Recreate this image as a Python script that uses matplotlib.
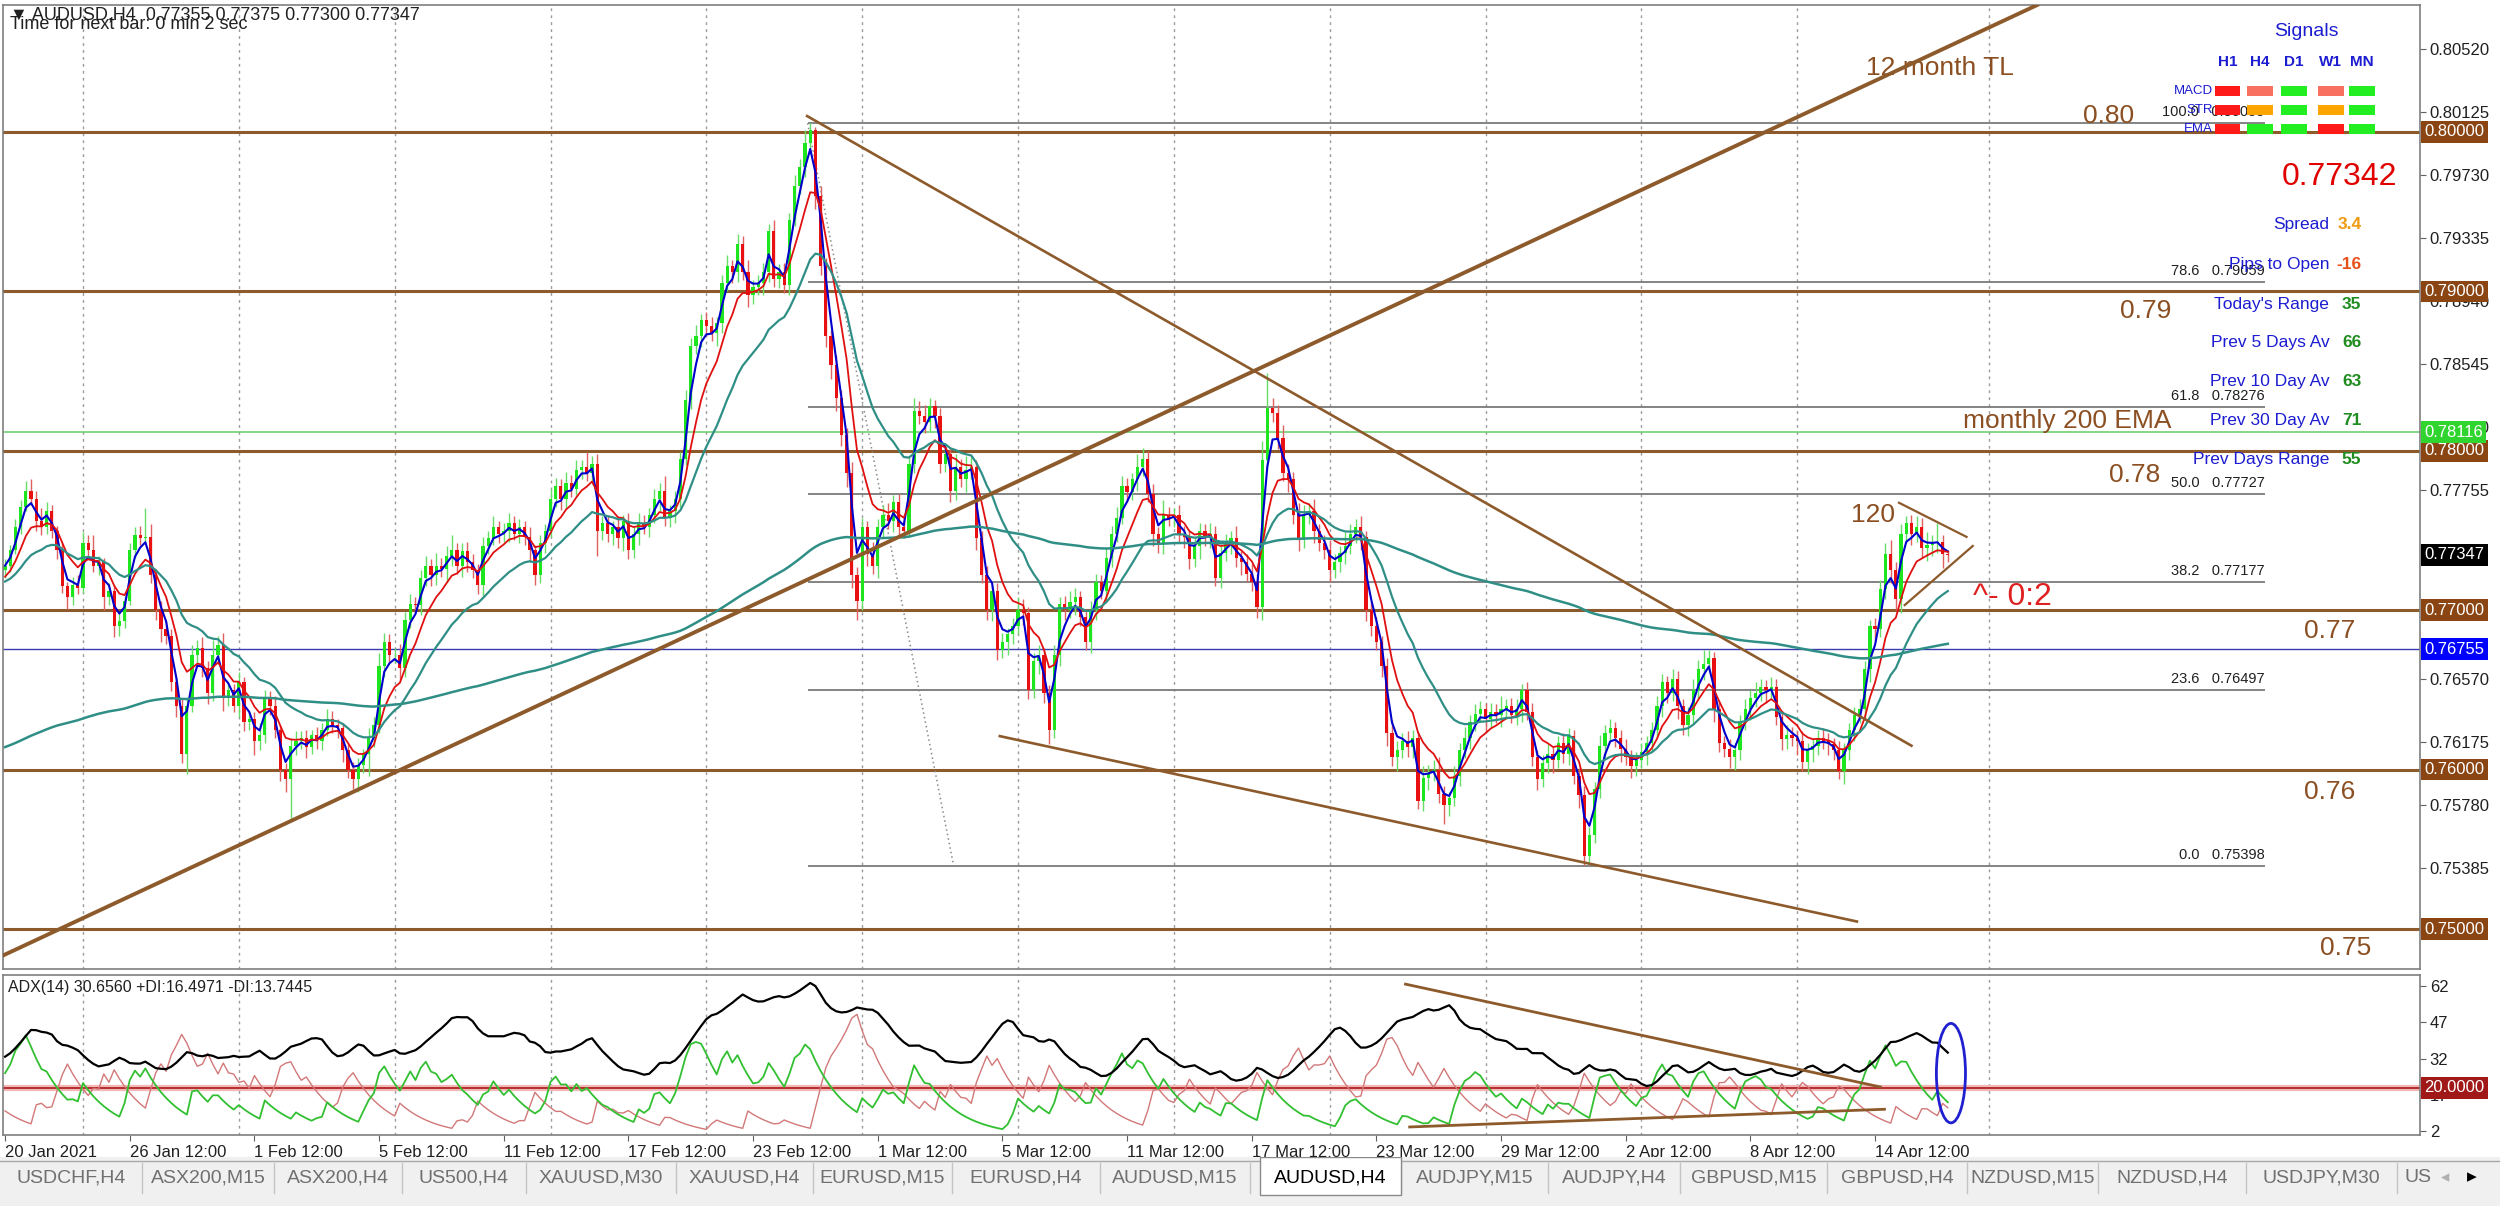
import numpy as np
import matplotlib.pyplot as plt
import matplotlib.transforms as mtransforms
from matplotlib.patches import Rectangle, Ellipse

plt.rcParams['font.family'] = ['Liberation Sans', 'DejaVu Sans']

# ---------------- data ----------------
# AUDUSD H4, 20 Jan 2021 12:00 .. 16 Apr 2021 20:00, prices in pips (x 0.0001)
first_open = 7725
close_pips = [
    7728, 7738, 7752, 7765, 7775, 7770, 7756, 7752, 7762, 7750,
    7738, 7715, 7708, 7716, 7714, 7742, 7738, 7728, 7730, 7708,
    7712, 7690, 7693, 7706, 7738, 7747, 7745, 7746, 7722, 7700,
    7688, 7684, 7655, 7640, 7610, 7640, 7672, 7676, 7664, 7648,
    7672, 7678, 7645, 7650, 7640, 7655, 7630, 7632, 7618, 7622,
    7645, 7640, 7625, 7600, 7594, 7615, 7618, 7620, 7614, 7622,
    7618, 7625, 7632, 7628, 7626, 7612, 7600, 7594, 7603, 7610,
    7620, 7628, 7665, 7680, 7672, 7672, 7664, 7694, 7704, 7703,
    7720, 7728, 7722, 7728, 7726, 7734, 7738, 7728, 7737, 7730,
    7725, 7716, 7740, 7745, 7752, 7748,
    7750, 7755, 7748, 7752, 7746, 7738, 7722, 7742, 7750, 7770,
    7778, 7770, 7780, 7776, 7788, 7790, 7786, 7792, 7750, 7755,
    7748, 7752, 7745, 7756, 7738, 7748, 7755, 7752, 7760, 7770,
    7775, 7758, 7762, 7770, 7795, 7832, 7866, 7872, 7882, 7878,
    7874, 7880, 7905, 7916, 7912, 7930, 7912, 7898, 7903, 7905,
    7912, 7938, 7908, 7912, 7904, 7945, 7966, 7978, 7993, 8001,
    7960, 7916, 7872, 7854, 7833, 7810, 7786, 7722, 7706, 7752,
    7735, 7728, 7752, 7760, 7756, 7768, 7752, 7750, 7792, 7825,
    7822, 7818, 7828, 7822, 7792, 7798, 7775, 7790, 7782, 7788,
    7790, 7745, 7722, 7700, 7712, 7675,
    7680, 7685, 7690, 7700, 7698, 7650, 7668, 7672, 7648, 7625,
    7672, 7704, 7700, 7705, 7708, 7696, 7680, 7700, 7718, 7712,
    7733, 7748, 7758, 7778, 7774, 7782, 7790, 7795, 7773, 7748,
    7742, 7760, 7758, 7760, 7748, 7746, 7732, 7740, 7750, 7746,
    7748, 7720, 7736, 7742, 7745, 7733, 7730, 7723, 7718, 7702,
    7794, 7827, 7824, 7808, 7786, 7782, 7760, 7744, 7760, 7762,
    7750, 7742, 7738, 7725, 7730, 7736, 7740, 7748, 7752, 7746,
    7700, 7690, 7680, 7665, 7623, 7608, 7612, 7618, 7614, 7620,
    7580, 7595, 7598, 7600, 7585, 7578, 7582, 7596, 7612, 7620,
    7630, 7635, 7638, 7632, 7636, 7634, 7638,
    7640, 7634, 7638, 7650, 7636, 7608, 7594, 7604, 7610, 7606,
    7617, 7610, 7621, 7596, 7584, 7546, 7559, 7588, 7615, 7623,
    7626, 7620, 7613, 7608, 7602, 7606, 7611, 7617, 7625, 7640,
    7655, 7648, 7657, 7640, 7628, 7634, 7650, 7663, 7666, 7670,
    7638, 7617, 7613, 7608, 7612, 7630, 7638, 7645, 7648, 7652,
    7650, 7652, 7633, 7619, 7622, 7620, 7618, 7605, 7612, 7615,
    7620, 7618, 7616, 7612, 7599, 7612, 7625, 7634, 7638, 7663,
    7690, 7688, 7713, 7735, 7725, 7707, 7748, 7755, 7748, 7752,
    7739, 7741, 7742, 7743, 7735.5, 7734.7,
]
up_wick = [
    4, 3, 5, 4, 6, 7, 5, 8, 6, 4, 3, 4, 3, 5, 6, 7, 5, 9, 4, 3, 5, 4, 6, 3, 4, 5, 6, 18, 8, 4,
    6, 5, 4, 3, 5, 4, 6, 5, 7, 4, 9, 6, 8, 5, 4, 6, 3, 5, 4, 7, 5, 4, 6, 3, 4, 5, 6, 4, 5, 3,
    5, 4, 6, 5, 4, 3, 4, 5, 4, 3, 6, 5, 8, 6, 5, 4, 7, 5, 6, 4, 5, 6, 4, 8, 5, 6, 9, 4, 5, 6,
    5, 4, 6, 5, 7, 4, 5, 6, 4, 5, 4, 6, 3, 5, 4, 6, 5, 4, 7, 5, 6, 4, 9, 5, 6, 4, 5, 4, 6, 4,
    5, 4, 6, 5, 4, 6, 5, 9, 4, 5, 4, 6, 5, 7, 4, 5, 6, 4, 5, 7, 4, 6, 5, 8, 4, 5, 6, 4, 7, 5,
    6, 4, 7, 5, 8, 4.5, 2, 6, 5, 4, 6, 5, 4, 7, 5, 6, 4, 8, 5, 6, 7, 4, 5, 6, 5, 8, 6, 7, 5, 4,
    5, 6, 4, 8, 5, 9, 6, 4, 5, 6, 4, 5, 6, 4, 5, 8, 7, 4, 5, 6, 4, 5, 6, 4, 5, 7, 6, 4, 5, 6,
    5, 4, 6, 5, 7, 6, 5, 4, 8, 7, 5, 6, 4, 9, 5, 4, 6, 5, 4, 6, 5, 4, 7, 5, 4, 6, 5, 8, 4, 5,
    6, 5, 12, 22, 6, 5, 8, 6, 5, 7, 6, 5, 8, 4, 5, 6, 5, 4, 9, 6, 5, 7, 4, 5, 6, 4, 5, 8, 6, 5,
    6, 5, 4, 7, 5, 6, 8, 5, 4, 6, 5, 7, 4, 6, 5, 4, 6, 5, 8, 4, 5, 6, 4, 5, 6, 4, 5, 6, 5, 4,
    6, 5, 4, 5, 6, 5, 4, 7, 5, 6, 4, 5, 6, 4, 5, 6, 4, 5, 6, 5, 4, 6, 5, 4, 5, 7, 6, 9, 5, 4,
    5, 4, 6, 5, 4, 6, 5, 7, 5, 4, 6, 5, 4, 6, 5, 4, 6, 5, 4, 5, 6, 5, 4, 6, 5, 4, 5, 6, 5, 4,
    5, 6, 7, 9, 5, 6, 4, 5, 7, 6, 8, 5, 12, 4, 2,
]
dn_wick = [
    5, 4, 3, 4, 3, 4, 6, 5, 4, 5, 6, 4, 7, 5, 4, 3, 5, 4, 6, 8, 5, 7, 6, 4, 3, 5, 4, 3, 5, 6,
    8, 5, 6, 7, 6, 13, 4, 5, 6, 7, 5, 6, 8, 5, 4, 7, 6, 5, 9, 6, 5, 6, 5, 7, 8, 26, 6, 5, 7, 4,
    5, 6, 4, 5, 6, 7, 5, 6, 8, 5, 14, 6, 5, 7, 6, 5, 8, 6, 5, 4, 6, 5, 7, 6, 5, 8, 6, 5, 7, 6,
    5, 6, 8, 5, 4, 6, 5, 7, 4, 6, 5, 8, 6, 5, 6, 4, 5, 7, 6, 5, 4, 6, 5, 7, 16, 6, 5, 7, 6, 8,
    6, 5, 7, 4, 6, 5, 8, 5, 6, 7, 5, 4, 6, 5, 7, 6, 5, 8, 6, 5, 7, 6, 5, 8, 6, 5, 7, 6, 5, 6,
    5, 6, 4, 5, 6, 7, 8, 6, 7, 9, 8, 7, 9, 8, 12, 6, 7, 5, 8, 6, 5, 7, 6, 5, 4, 6, 5, 7, 6, 8,
    6, 5, 7, 6, 5, 8, 6, 7, 5, 6, 7, 6, 5, 8, 6, 5, 7, 6, 5, 8, 6, 9, 5, 7, 6, 5, 8, 6, 5, 7,
    6, 5, 7, 6, 5, 4, 6, 5, 7, 6, 5, 8, 6, 7, 5, 6, 5, 7, 6, 5, 8, 6, 7, 5, 6, 5, 7, 6, 8, 5,
    6, 7, 8, 5, 6, 7, 5, 8, 6, 7, 5, 6, 8, 5, 6, 7, 5, 6, 7, 5, 6, 8, 7, 6, 5, 7, 8, 6, 9, 5,
    6, 7, 5, 6, 8, 5, 6, 12, 7, 5, 6, 5, 7, 6, 5, 8, 6, 5, 7, 6, 5, 6, 8, 5, 6, 7, 5, 6, 8, 5,
    6, 7, 5, 8, 6, 4, 5, 6, 7, 5, 6, 8, 5, 7, 6, 5, 8, 6, 5, 7, 6, 5, 8, 6, 7, 5, 6, 7, 5, 8,
    6, 5, 7, 8, 6, 5, 7, 6, 5, 8, 6, 5, 7, 6, 5, 9, 6, 8, 7, 6, 5, 7, 6, 5, 8, 6, 7, 5, 6, 8,
    7, 5, 6, 8, 7, 9, 6, 7, 5, 6, 8, 7, 6, 9, 4.7,
]

# moving averages: period and value carried in at the first bar
ma_periods = [3, 8, 21, 200]
ma_start = [0.7728, 0.7719, 0.7717, 0.7613]
# ADX / +DI / -DI values carried in at the first bar
adx_start, pdi_start, mdi_start = 32.0, 30.0, 12.0

date_bars = [0, 24, 48, 72, 96, 120, 144, 168, 192, 216, 240, 264, 288, 312, 336, 360]
date_labels = ["20 Jan 2021", "26 Jan 12:00", "1 Feb 12:00", "5 Feb 12:00", "11 Feb 12:00",
               "17 Feb 12:00", "23 Feb 12:00", "1 Mar 12:00", "5 Mar 12:00", "11 Mar 12:00",
               "17 Mar 12:00", "23 Mar 12:00", "29 Mar 12:00", "2 Apr 12:00", "8 Apr 12:00",
               "14 Apr 12:00"]
grid_bars = [15, 45, 75, 105, 135, 165, 195, 225, 255, 285, 315, 345, 382]

axis_ticks = [0.80520, 0.80125, 0.79730, 0.79335, 0.78940, 0.78545, 0.78150, 0.77755,
              0.77360, 0.76965, 0.76570, 0.76175, 0.75780, 0.75385, 0.74990]
# scale labels that sit under a price box are not visible
axis_hidden = [0.77360, 0.76965, 0.74990]
round_levels = [0.80, 0.79, 0.78, 0.77, 0.76, 0.75]
ema_monthly = 0.78116
blue_level = 0.76755
last_price = 0.77347

fib_ratios = [100.0, 78.6, 61.8, 50.0, 38.2, 23.6, 0.0]
fib_prices = [0.80055, 0.79059, 0.78276, 0.77727, 0.77177, 0.76497, 0.75398]

# trend lines as (bar, price) pairs
tl_12month = [(0, 0.7484), (380, 0.80626)]
tl_down = [(154.4, 0.8010), (367, 0.7615)]
tl_channel = [(191.5, 0.7621), (356.5, 0.75047)]
tri_upper = [(364.6, 0.77674), (377.6, 0.7746)]
tri_lower = [(365.7, 0.77032), (378.8, 0.77403)]
adx_upper = [(269.6, 62.7), (361, 20.3)]
adx_lower = [(270.4, 3.8), (361.8, 11.1)]

signal_cols = ["H1", "H4", "D1", "W1", "MN"]
signal_rows = ["MACD", "STR", "EMA"]
signal_colors = [
    ['#ff1a1a', '#f87060', '#22ee22', '#f87060', '#22ee22'],
    ['#ff1a1a', '#ffa500', '#22ee22', '#ffa500', '#22ee22'],
    ['#ff1a1a', '#22ee22', '#22ee22', '#ff1a1a', '#22ee22'],
]
info_labels = ["Spread", "Pips to Open", "Today's Range", "Prev 5 Days Av",
               "Prev 10 Day Av", "Prev 30 Day Av", "Prev Days Range"]
info_values = ["3.4", "-16", "35", "66", "63", "71", "55"]
info_colors = ['#f09a10', '#e8501a', '#1e8c1e', '#1e8c1e', '#1e8c1e', '#1e8c1e', '#1e8c1e']

tab_names = ["USDCHF,H4", "ASX200,M15", "ASX200,H4", "US500,H4", "XAUUSD,M30", "XAUUSD,H4",
             "EURUSD,M15", "EURUSD,H4", "AUDUSD,M15", "AUDUSD,H4", "AUDJPY,M15", "AUDJPY,H4",
             "GBPUSD,M15", "GBPUSD,H4", "NZDUSD,M15", "NZDUSD,H4", "USDJPY,M30"]
active_tab = "AUDUSD,H4"

# ---------------- series ----------------
close = np.array(close_pips) / 1e4
open_ = np.concatenate([[first_open / 1e4], close[:-1]])
high = np.maximum(open_, close) + np.array(up_wick) / 1e4
low = np.minimum(open_, close) - np.array(dn_wick) / 1e4
bars = np.arange(len(close))


def ema(values, period, start=None):
    k = 2.0 / (period + 1)
    out = np.empty(len(values))
    e = values[0] if start is None else start
    for i, v in enumerate(values):
        e = e + k * (v - e)
        out[i] = e
    return out


# ADX(14)
prev_close = np.concatenate([[open_[0]], close[:-1]])
prev_high = np.concatenate([[high[0]], high[:-1]])
prev_low = np.concatenate([[low[0]], low[:-1]])
tr = np.maximum.reduce([high - low, np.abs(high - prev_close), np.abs(low - prev_close)])
up_move = high - prev_high
down_move = prev_low - low
pdm = np.where((up_move > down_move) & (up_move > 0), up_move, 0.0)
mdm = np.where((down_move > up_move) & (down_move > 0), down_move, 0.0)
plus_di = ema(100 * pdm / tr, 14, pdi_start)
minus_di = ema(100 * mdm / tr, 14, mdi_start)
dx = 100 * np.abs(plus_di - minus_di) / np.maximum(plus_di + minus_di, 1e-9)
adx = ema(dx, 27, adx_start)  # Wilder smoothing of 14

# ---------------- figure ----------------
brown = '#8d5a2b'
brown_txt = '#8b4f22'
brown_box = '#8b4513'
blue_txt = '#1c1cd0'

fig = plt.figure(figsize=(25, 12.06), dpi=100)
ax = fig.add_axes([0.0012, 0.1965, 0.9668, 0.7994])
ax_adx = fig.add_axes([0.0012, 0.0589, 0.9668, 0.1327], sharex=ax)
ax_tab = fig.add_axes([0, 0, 1, 49 / 1206])

ax.set_xlim(-0.4, 464.9)
ax.set_ylim(0.74749, 0.80797)

for a in (ax, ax_adx):
    for g in grid_bars:
        a.axvline(g, color='#9a9a9a', lw=1, ls=(0, (2, 3)), zorder=0)
    for s in a.spines.values():
        s.set_color('#7f7f7f')
        s.set_linewidth(1.2)

# horizontal levels
for lv in round_levels:
    ax.axhline(lv, color=brown, lw=2.2, zorder=1)
ax.axhline(ema_monthly, color='#66cc66', lw=1.1, zorder=1)
ax.axhline(blue_level, color='#3b3bb0', lw=1.0, zorder=1)

# fibonacci
fib_start, fib_end = 154.5, 435
for r, p in zip(fib_ratios, fib_prices):
    ax.hlines(p, fib_start, fib_end, color='#7a7a7a', lw=1.3, zorder=1)
    ax.text(fib_end, p + 0.00025, f"{r:.1f}   {p:.5f}", ha='right', va='bottom',
            fontsize=10.5, color='#202020')
ax.plot([fib_start, 182.6], [fib_prices[0], fib_prices[-1]], color='#8a8a8a', lw=1.1,
        ls=(0, (1, 2)), zorder=1)

# candles
bull = close >= open_
body_lo = np.minimum(open_, close)
body_h = np.maximum(np.abs(close - open_), 0.00002)
ax.vlines(bars, low, high, colors=np.where(bull, '#66dd66', '#e06060'), lw=1.0, zorder=2)
ax.bar(bars, body_h, 0.62, bottom=body_lo, color=np.where(bull, '#1ee61e', '#e81010'),
       lw=0, zorder=2)

# moving averages
ma_colors = ['#0000cc', '#e01010', '#2f8f86', '#2f8f86']
ma_widths = [1.5, 1.3, 1.6, 1.8]
for per, st, col, w in zip(ma_periods, ma_start, ma_colors, ma_widths):
    ax.plot(bars, ema(close, per, st), color=col, lw=w, zorder=3)

# trend lines
ax.axline(tl_12month[0], tl_12month[1], color=brown, lw=2.8, zorder=4)
for seg, w in [(tl_down, 1.9), (tl_channel, 1.9), (tri_upper, 1.6), (tri_lower, 1.6)]:
    ax.plot([seg[0][0], seg[1][0]], [seg[0][1], seg[1][1]], color=brown, lw=w, zorder=4)

# chart annotations
ax.text(372.5, 0.8040, "12 month TL", color=brown_txt, fontsize=19, ha='center', va='center')
round_label_xy = [(405, 0.8010), (412, 0.7888), (410, 0.7785), (447.5, 0.7687),
                  (447.5, 0.7586), (450.5, 0.7488)]
for lv, (lx, ly) in zip(round_levels, round_label_xy):
    ax.text(lx, ly, f"{lv:.2f}", color=brown_txt, fontsize=19, ha='center', va='center')
ax.text(397, 0.7819, "monthly 200 EMA", color=brown_txt, fontsize=19, ha='center', va='center')
ax.text(359.6, 0.7760, "120", color=brown_txt, fontsize=19, ha='center', va='center')
ax.text(386.5, 0.7708, "^- 0:2", color='#e02020', fontsize=23, ha='center', va='center')

# header
ax.text(0.003, 0.990, "\u25bc AUDUSD,H4  0.77355 0.77375 0.77300 0.77347",
        transform=ax.transAxes, fontsize=13, va='center', color='#202020')
ax.text(0.003, 0.980, "Time for next bar: 0 min 2 sec", transform=ax.transAxes,
        fontsize=13, va='center', color='#202020')

# signals panel
ax.text(0.953, 0.972, "Signals", transform=ax.transAxes, fontsize=14, color=blue_txt,
        ha='center', va='center')
col_x = [0.9203, 0.9338, 0.9479, 0.9631, 0.9760]
row_y = [0.9107, 0.8909, 0.8711]
for cx, name in zip(col_x, signal_cols):
    ax.text(cx, 0.9405, name, transform=ax.transAxes, fontsize=11, fontweight='bold',
            color=blue_txt, ha='center', va='center')
for ry, rname, cols in zip(row_y, signal_rows, signal_colors):
    ax.text(0.9143, ry, rname, transform=ax.transAxes, fontsize=9.5, color=blue_txt,
            ha='right', va='center')
    for cx, c in zip(col_x, cols):
        ax.add_patch(Rectangle((cx - 0.0053, ry - 0.005), 0.0106, 0.0099, transform=ax.transAxes,
                               fc=c, ec='none', zorder=6))
ax.text(0.9665, 0.8215, f"{last_price - 0.00005:.5f}", transform=ax.transAxes, fontsize=23,
        color='#e00000', ha='center', va='center')
info_y = [0.772, 0.7306, 0.6893, 0.6496, 0.6099, 0.5686, 0.5289]
for y, lab, val, vc in zip(info_y, info_labels, info_values, info_colors):
    ax.text(0.9625, y, lab, transform=ax.transAxes, fontsize=12.5, color=blue_txt,
            ha='right', va='center')
    ax.text(0.9757, y, val, transform=ax.transAxes, fontsize=12.5, color=vc, fontweight='bold',
            ha='right', va='center')

# right price axis
ax.yaxis.tick_right()
ax.set_yticks(axis_ticks)
ax.set_yticklabels(["" if t in axis_hidden else f"{t:.5f}" for t in axis_ticks],
                   fontsize=12, color='#202020')
ax.tick_params(axis='y', direction='out', length=4, pad=3, color='#606060')
ax.tick_params(axis='x', bottom=False, labelbottom=False)

blend = mtransforms.blended_transform_factory(ax.transAxes, ax.transData)
marker_prices = round_levels[:3] + [ema_monthly, last_price, 0.77, blue_level, 0.76, 0.75]
marker_colors = [brown_box, brown_box, brown_box, '#2fd42f', 'black', brown_box, '#0000ff',
                 brown_box, brown_box]
for p, c in zip(marker_prices, marker_colors):
    ax.text(1.0018, p, f"{p:.5f}", transform=blend, fontsize=12, color='white', ha='left',
            va='center', clip_on=False, zorder=10,
            bbox=dict(boxstyle='square,pad=0.2', fc=c, ec='none'))

# ---------------- ADX panel ----------------
ax_adx.set_ylim(0.5, 66.5)
ax_adx.axhline(20, color='#f2b8b8', lw=4.5, zorder=1)
ax_adx.axhline(20, color='#b22222', lw=1.3, zorder=1)
ax_adx.plot(bars, minus_di, color='#d27878', lw=1.0, zorder=2)
ax_adx.plot(bars, plus_di, color='#32c032', lw=1.3, zorder=2)
ax_adx.plot(bars, adx, color='black', lw=1.6, zorder=3)
for seg in (adx_upper, adx_lower):
    ax_adx.plot([seg[0][0], seg[1][0]], [seg[0][1], seg[1][1]], color=brown, lw=2, zorder=4)
ax_adx.add_patch(Ellipse((374.6, 26), 5.6, 41, fc='none', ec='#2020d0', lw=2, zorder=5))
ax_adx.text(0.002, 0.92, "ADX(14) 30.6560 +DI:16.4971 -DI:13.7445", transform=ax_adx.transAxes,
            fontsize=11.5, va='center', color='#202020')

ax_adx.yaxis.tick_right()
ax_adx.set_yticks([62, 47, 32, 17, 2])
ax_adx.set_yticklabels(["62", "47", "32", "17", "2"], fontsize=12, color='#202020')
ax_adx.tick_params(axis='y', direction='out', length=4, pad=3, color='#606060')
blend2 = mtransforms.blended_transform_factory(ax_adx.transAxes, ax_adx.transData)
ax_adx.text(1.0018, 20, "20.0000", transform=blend2, fontsize=12, color='white', ha='left',
            va='center', clip_on=False, zorder=10,
            bbox=dict(boxstyle='square,pad=0.2', fc='#a01818', ec='none'))

ax_adx.set_xticks(date_bars)
ax_adx.set_xticklabels(date_labels, ha='left', fontsize=12, color='#202020')
ax_adx.tick_params(axis='x', direction='out', length=4, pad=3, color='#606060')

# ---------------- tab bar ----------------
ax_tab.set_xlim(0, 2500)
ax_tab.set_ylim(0, 49)
ax_tab.axis('off')
ax_tab.add_patch(Rectangle((0, 0), 2500, 49, fc='#f0f0f0', ec='none'))
ax_tab.plot([0, 2500], [45, 45], color='#a8a8a8', lw=1)
tab_edges = [0, 142, 274, 402, 526, 676, 813, 952, 1100, 1250, 1401, 1548, 1680, 1827, 1967,
             2098, 2246, 2397]
for i, name in enumerate(tab_names):
    x0, x1 = tab_edges[i], tab_edges[i + 1]
    if name == active_tab:
        ax_tab.add_patch(Rectangle((x0 + 10, 11), x1 - x0 - 10, 38, fc='white', ec='#8a8a8a',
                                   lw=1, zorder=3))
        ax_tab.text((x0 + 10 + x1) / 2, 28, name, fontsize=14, color='black', ha='center',
                    va='center', zorder=4)
    else:
        ax_tab.text((x0 + x1) / 2, 28, name, fontsize=14, color='#707070', ha='center',
                    va='center')
    if i > 0:
        ax_tab.plot([x0, x0], [13, 43], color='#c4c4c4', lw=1)
ax_tab.plot([2397, 2397], [13, 43], color='#c4c4c4', lw=1)
ax_tab.text(2405, 28, "US", fontsize=14, color='#707070', ha='left', va='center')
ax_tab.text(2445, 28, "\u25c2", fontsize=12, color='#b0b0b0', ha='center', va='center')
ax_tab.text(2472, 28, "\u25b8", fontsize=14, color='black', ha='center', va='center')

fig.savefig("out.png", dpi=100)
